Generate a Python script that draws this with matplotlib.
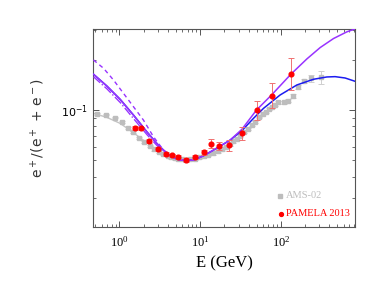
import matplotlib
matplotlib.use('Agg')
import matplotlib.pyplot as plt
from matplotlib.ticker import LogLocator, NullFormatter

plt.rcParams['font.family'] = 'Liberation Serif'

# AMS-02 positron fraction
ams_E = [0.52, 0.684, 0.868, 1.07, 1.29, 1.49, 1.74, 2.04, 2.36, 2.69, 3.07, 3.51,
         3.94, 4.33, 4.81, 5.29, 5.93, 6.70, 7.52, 8.67, 9.72, 11.0, 12.6, 14.5,
         16.4, 18.5, 20.8, 23.1, 25.6, 28.5, 31.6, 35.1, 39.0, 43.7, 48.0, 53.9,
         59.8, 65.8, 71.6, 78.0, 85.0, 93.4, 109, 122, 141, 165, 191, 235, 316]
ams_f = [0.095, 0.0938, 0.090, 0.0847, 0.078, 0.0735, 0.0683, 0.0643, 0.0609, 0.0581,
         0.0563, 0.0545, 0.0533, 0.0523, 0.0516, 0.0511, 0.0507, 0.0504, 0.0507, 0.0511,
         0.0521, 0.0533, 0.0540, 0.0550, 0.0566, 0.0581, 0.0603, 0.0623, 0.0649, 0.0673,
         0.0699, 0.0738, 0.0773, 0.0810, 0.0851, 0.0904, 0.0951, 0.0973, 0.1014, 0.1042,
         0.1079, 0.1112, 0.1112, 0.1137, 0.1213, 0.1367, 0.1493, 0.155, 0.157]
ams_err = [0.001] * 40 + [0.0015, 0.002, 0.002, 0.0025, 0.003, 0.004, 0.005, 0.008, 0.013]

# PAMELA 2013
pam_E = [1.56, 1.86, 2.29, 2.96, 3.76, 4.46, 5.29, 6.7, 8.67, 11.0, 13.7, 16.9,
         22.9, 32.9, 49.9, 77.4, 134]
pam_f = [0.078, 0.0777, 0.0655, 0.0587, 0.0545, 0.0536, 0.0526, 0.0502, 0.0521,
         0.0558, 0.0628, 0.0611, 0.0619, 0.0731, 0.0995, 0.1218, 0.164]
pam_lo = [0.076, 0.0757, 0.0638, 0.0572, 0.0532, 0.0523, 0.0513, 0.0489, 0.0507,
          0.0538, 0.0592, 0.0573, 0.057, 0.0661, 0.0868, 0.1024, 0.1318]
pam_hi = [0.080, 0.0797, 0.0672, 0.0602, 0.0558, 0.0549, 0.0539, 0.0515, 0.0535,
          0.0578, 0.067, 0.0646, 0.0661, 0.0794, 0.1132, 0.1445, 0.204]

# model curves
purple_E = [0.477, 0.697, 1.02, 1.49, 2.18, 2.90, 3.86, 5.14, 6.71, 8.68, 11.0, 14.6,
            19.5, 23.5, 32.8, 49.9, 77.3, 134, 210, 307, 449, 656, 834]
purple_f = [0.1635, 0.1392, 0.1158, 0.0933, 0.0742, 0.0632, 0.0550, 0.0509, 0.0497,
            0.0507, 0.0533, 0.0576, 0.0626, 0.0661, 0.0766, 0.100, 0.1235, 0.1642,
            0.2020, 0.2362, 0.2674, 0.2931, 0.3055]
blue_E = [0.477, 0.697, 1.02, 1.49, 2.18, 2.90, 3.86, 5.14, 6.71, 8.68, 11.0, 14.6,
          19.5, 23.5, 32.8, 45.8, 60.9, 97.9, 158, 254, 371, 470, 625, 834]
blue_f = [0.1635, 0.1392, 0.1158, 0.0933, 0.0742, 0.0632, 0.0550, 0.0509, 0.0497,
          0.0507, 0.0533, 0.0576, 0.0626, 0.0661, 0.0752, 0.0892, 0.1023, 0.1230,
          0.1412, 0.1527, 0.1576, 0.1583, 0.1554, 0.1484]
dash_E = [0.476, 0.634, 0.843, 1.12, 1.49, 1.98, 2.64, 3.51, 4.67, 5.14, 6.71, 8.68]
dash_f = [0.1992, 0.1777, 0.1512, 0.1259, 0.1047, 0.0871, 0.0692, 0.0576, 0.0525,
          0.0509, 0.0497, 0.0507]
dot_E = [0.477, 0.697, 1.02, 1.49, 2.18, 2.90, 3.86, 5.14, 6.71, 8.68]
dot_f = [0.158, 0.134, 0.111, 0.089, 0.0715, 0.0615, 0.0545, 0.0508, 0.0497, 0.0507]
gray_E = [0.477, 0.697, 1.02, 1.49, 2.18, 3.20, 4.25, 5.65, 7.52, 9.72]
gray_f = [0.0955, 0.0904, 0.0832, 0.0732, 0.0637, 0.0563, 0.0525, 0.0507, 0.0502, 0.0515]

fig = plt.figure(figsize=(3.82, 2.87), dpi=100)
ax = fig.add_axes([0.2435, 0.2091, 0.6859, 0.6899])
ax.set_xscale('log')
ax.set_yscale('log')

ax.plot(gray_E, gray_f, '-', color='#c4c4c4', lw=1.0)
ax.errorbar(ams_E, ams_f, yerr=ams_err, fmt='s', color='#bdbdbd', ms=2.8,
            ecolor='#cfcfcf', elinewidth=0.7, capsize=2, capthick=0.7, zorder=2)
ax.errorbar(pam_E, pam_f,
            yerr=[[f - l for f, l in zip(pam_f, pam_lo)], [h - f for f, h in zip(pam_f, pam_hi)]],
            fmt='o', color='#ff0000', ms=3.4, ecolor='#f07070', elinewidth=0.7,
            capsize=2, capthick=0.7, zorder=5)

ax.plot(blue_E, blue_f, '-', color='#1c1cf0', lw=1.1, zorder=3)
ax.plot(purple_E, purple_f, '-', color='#9933ff', lw=1.1, zorder=4)
ax.plot(dash_E, dash_f, '--', color='#9933ff', lw=1.0, dashes=(3, 2.5), zorder=4)
ax.plot(dot_E, dot_f, '-.', color='#9933ff', lw=1.0, zorder=4)

ax.set_xlim(0.47, 830)
ax.set_ylim(0.02, 0.305)

ax.set_xticks([1, 10, 100], [r'$\mathdefault{10^{0}}$', r'$\mathdefault{10^{1}}$',
                             r'$\mathdefault{10^{2}}$'], fontsize=9)
ax.set_yticks([0.1], [r'$10^{-1}$'], fontsize=8, fontfamily='DejaVu Sans')
ax.xaxis.set_minor_locator(LogLocator(base=10, subs=range(2, 10)))
ax.yaxis.set_minor_locator(LogLocator(base=10, subs=range(2, 10)))
ax.xaxis.set_minor_formatter(NullFormatter())
ax.yaxis.set_minor_formatter(NullFormatter())
ax.tick_params(which='both', direction='in', top=True, right=True, color='#555555')
ax.tick_params(which='major', length=4.5, width=0.7)
ax.tick_params(axis='x', which='major', pad=6)
ax.tick_params(which='minor', length=2.2, width=0.6)
for s in ax.spines.values():
    s.set_color('#555555')
    s.set_linewidth(0.8)

ax.set_xlabel('E (GeV)', fontsize=12, labelpad=4)
ax.set_ylabel(r'e$^+$/(e$^+$ + e$^-$)', fontsize=10, fontfamily='DejaVu Sans',
              color='#333333', labelpad=10)

# legend
ax.plot([0.714], [0.158], 's', color='#bdbdbd', ms=2.8, transform=ax.transAxes)
ax.text(0.735, 0.158, 'AMS-02', color='#bdbdbd', fontsize=7.5, va='center',
        transform=ax.transAxes)
ax.plot([0.718], [0.066], 'o', color='#ff0000', ms=2.8, transform=ax.transAxes)
ax.text(0.735, 0.066, 'PAMELA 2013', color='#ff0000', fontsize=7.5, va='center',
        transform=ax.transAxes)

fig.savefig('out.png', dpi=100)
